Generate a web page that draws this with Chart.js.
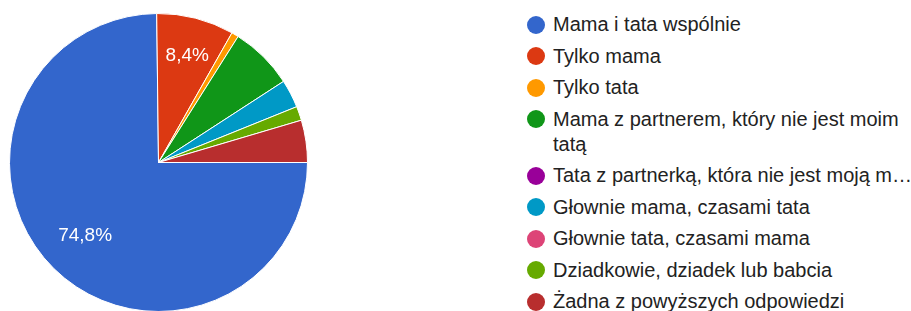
<!DOCTYPE html>
<html>
<head>
<meta charset="utf-8">
<script src="https://cdn.jsdelivr.net/npm/chart.js@4.4.1/dist/chart.umd.min.js"></script>
<style>
  html, body { margin: 0; padding: 0; background: #fff; }
  body { width: 911px; height: 311px; position: relative; overflow: hidden; font-family: "Liberation Sans", Arial, sans-serif; }
  #pieBox { position: absolute; left: 9px; top: 13px; width: 299px; height: 299px; }
  #legend { position: absolute; left: 527px; top: 12px; width: 385px; color: #222222; font-size: 20px; }
  .item { display: flex; align-items: flex-start; margin-bottom: 6.5px; line-height: 25px; }
  .dot { flex: none; width: 18px; height: 18px; border-radius: 50%; margin: 3.5px 8px 0 0; }
  .txt { flex: 1; min-width: 0; }
  .txt.cut { white-space: nowrap; overflow: hidden; }
</style>
</head>
<body>
<div id="pieBox"><canvas id="pie"></canvas></div>
<div id="legend"></div>
<script>
// answers (Google Forms style pie), counts of responses
const labels = [
  "Mama i tata wspólnie",
  "Tylko mama",
  "Tylko tata",
  "Mama z partnerem, który nie jest moim tatą",
  "Tata z partnerką, która nie jest moją mamą",
  "Głownie mama, czasami tata",
  "Głownie tata, czasami mama",
  "Dziadkowie, dziadek lub babcia",
  "Żadna z powyższych odpowiedzi"
];
const counts = [98, 11, 1, 9, 0, 4, 0, 2, 6];
const colors = ["#3366cc", "#dc3912", "#ff9900", "#109618", "#990099", "#0099c6", "#dd4477", "#66aa00", "#b82e2e"];

const total = counts.reduce((a, b) => a + b, 0);
const pctText = (v) => (v / total * 100).toFixed(1).replace(".", ",") + "%";

// white percentage text on the bigger slices
const sliceLabels = {
  id: "sliceLabels",
  afterDatasetsDraw(chart) {
    const ctx = chart.ctx;
    const meta = chart.getDatasetMeta(0);
    ctx.save();
    ctx.fillStyle = "#ffffff";
    ctx.font = "19px 'Liberation Sans', Arial, sans-serif";
    ctx.textAlign = "center";
    ctx.textBaseline = "middle";
    meta.data.forEach((arc, i) => {
      if (counts[i] / total < 0.08) return;
      const mid = (arc.startAngle + arc.endAngle) / 2;
      const r = arc.outerRadius * 0.72;
      ctx.fillText(pctText(counts[i]), arc.x + Math.cos(mid) * r + 2, arc.y + Math.sin(mid) * r - 3);
    });
    ctx.restore();
  }
};

const chart = new Chart(document.getElementById("pie"), {
  type: "pie",
  data: {
    labels: labels,
    datasets: [{
      data: counts,
      backgroundColor: colors,
      borderColor: "#ffffff",
      borderWidth: 1
    }]
  },
  options: {
    responsive: true,
    maintainAspectRatio: false,
    animation: false,
    rotation: 90, // first slice starts at 3 o'clock
    plugins: {
      legend: { display: false },
      tooltip: { enabled: false }
    }
  },
  plugins: [sliceLabels]
});

// html legend, built from the chart's own legend items
const legendEl = document.getElementById("legend");
const items = chart.options.plugins.legend.labels.generateLabels(chart);
items.forEach((it) => {
  const row = document.createElement("div");
  row.className = "item";
  const dot = document.createElement("span");
  dot.className = "dot";
  dot.style.background = it.fillStyle;
  const txt = document.createElement("span");
  txt.className = "txt";
  txt.textContent = it.text;
  row.appendChild(dot);
  row.appendChild(txt);
  legendEl.appendChild(row);
});
// only one entry may take a second line, later long ones get cut with "…"
let spare = 1;
legendEl.querySelectorAll(".txt").forEach((t) => {
  if (t.offsetHeight > 30) {
    if (spare > 0) { spare--; return; }
    t.classList.add("cut");
    let s = t.textContent;
    while (s.length > 1 && t.scrollWidth > t.clientWidth) {
      s = s.slice(0, -1);
      t.textContent = s.trimEnd() + "…";
    }
  }
});
</script>
</body>
</html>
